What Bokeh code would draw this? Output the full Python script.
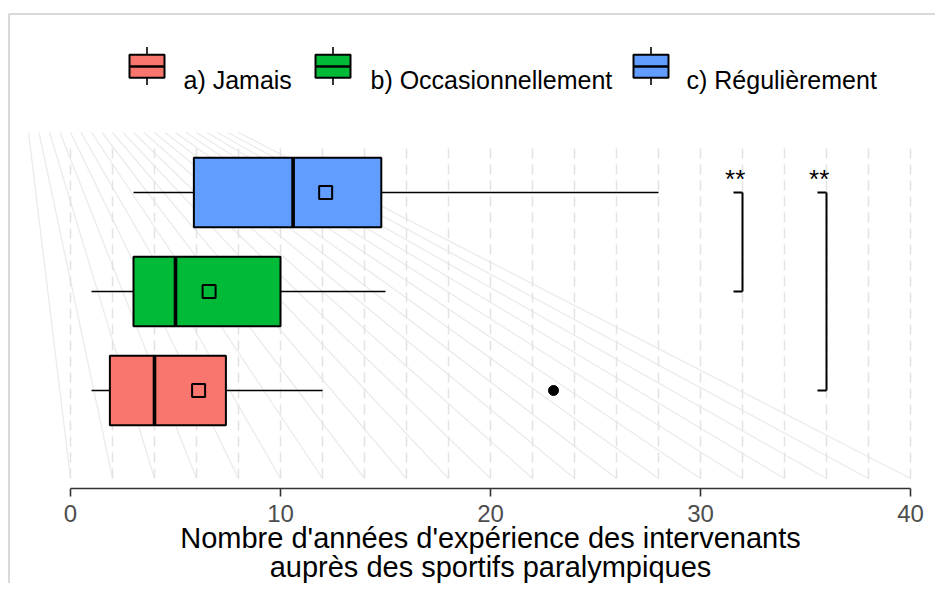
import numpy as np
from bokeh.plotting import figure
from bokeh.models import Range1d, ColumnDataSource, FixedTicker
from bokeh.core.properties import value
from bokeh.embed import file_html
from bokeh.resources import INLINE

# ---------------- data ----------------
groups = ["a) Jamais", "b) Occasionnellement", "c) Régulièrement"]
group_pos = [1, 2, 3]
colors = ["#F8766D", "#00BA38", "#619CFF"]
whisker_low = [1, 1, 3]
q1 = [1.875, 3, 5.875]
median = [4, 5, 10.6]
q3 = [7.4, 10, 14.8]
whisker_high = [12, 15, 28]
means = [6.1, 6.6, 12.15]
outlier_x = [23]
outlier_group = [1]
bracket_from = [3, 3]
bracket_to = [2, 1]
bracket_x = [32, 36]
bracket_label = ["**", "**"]
x_ticks = [0, 10, 20, 30, 40]
grid_ticks = list(range(0, 41, 2))
axis_title = "Nombre d'années d'expérience des intervenants\nauprès des sportifs paralympiques"

FONT = "Liberation Sans"

# pixel helpers (canvas coords -> data coords), layout only
def X(px):
    return (px - 70) / 21.0

def Y(py):
    return 1 + (390 - py) / 99.0

W, H = 935, 583
AXIS_Y = 488
p = figure(width=W, height=H, output_backend="svg", toolbar_location=None,
           x_range=Range1d(X(0), X(W)), y_range=Range1d(Y(H), Y(0)),
           min_border_left=0, min_border_right=0, min_border_top=0, min_border_bottom=0)
p.outline_line_color = None
p.background_fill_color = "white"
p.border_fill_color = "white"
p.yaxis.visible = False
p.xgrid.visible = False
p.ygrid.visible = False

# axis (drawn inside the canvas at a fixed location)
ax = p.xaxis[0]
ax.fixed_location = Y(AXIS_Y)
ax.ticker = FixedTicker(ticks=x_ticks)
ax.bounds = (0, 40)
ax.axis_line_color = "#333333"
ax.axis_line_width = 1.6
ax.major_tick_line_color = "#333333"
ax.major_tick_line_width = 1.6
ax.major_tick_in = 0
ax.major_tick_out = 8
ax.minor_tick_line_color = None
ax.major_label_text_font = FONT
ax.major_label_text_font_size = "24px"
ax.major_label_text_color = "#4d4d4d"
ax.major_label_standoff = 8
ax.axis_label = axis_title
ax.axis_label_text_font = FONT
ax.axis_label_text_font_size = "29px"
ax.axis_label_text_font_style = "normal"
ax.axis_label_text_color = "black"
ax.axis_label_standoff = -3
ax.axis_label_text_line_height = 0.92

# outer border (top and left)
p.segment(x0=[X(8)], x1=[X(W)], y0=[Y(13.5)], y1=[Y(13.5)],
          line_color="#d9d9d9", line_width=2)
p.segment(x0=[X(8.5)], x1=[X(8.5)], y0=[Y(13.5)], y1=[Y(H)],
          line_color="#d9d9d9", line_width=2)

# fan-shaped background lines
fan_bottom = np.array(grid_ticks, dtype=float)
fan_top = -2 + 0.5 * np.arange(len(grid_ticks))
p.segment(x0=fan_top, y0=[Y(132)] * len(fan_top), x1=fan_bottom, y1=[Y(478)] * len(fan_top),
          line_color="#ebebeb", line_width=1.3)

# dashed vertical grid
p.segment(x0=grid_ticks, x1=grid_ticks, y0=[Y(478)] * len(grid_ticks), y1=[Y(143)] * len(grid_ticks),
          line_color="#e3e3e3", line_width=1.5, line_dash="10 6")

# boxplots
half = 0.35
src = ColumnDataSource(dict(y=group_pos, wl=whisker_low, q1=q1, med=median, q3=q3,
                            wh=whisker_high, mean=means, color=colors,
                            ylo=[g - half for g in group_pos], yhi=[g + half for g in group_pos]))
p.segment(x0="wl", x1="q1", y0="y", y1="y", source=src, line_color="black", line_width=1.6)
p.segment(x0="q3", x1="wh", y0="y", y1="y", source=src, line_color="black", line_width=1.6)
p.hbar(y="y", left="q1", right="q3", height=2 * half, fill_color="color", line_color="black",
       line_width=2, source=src)
p.segment(x0="med", x1="med", y0="ylo", y1="yhi", source=src, line_color="black", line_width=3.6)
p.scatter(x="mean", y="y", source=src, marker="square", size=13, fill_color=None,
          line_color="black", line_width=2)
p.scatter(x=outlier_x, y=outlier_group, marker="circle", size=10, fill_color="black",
          line_color="black")

# significance brackets
tick_len = 0.43
for a, b, bx, lab in zip(bracket_from, bracket_to, bracket_x, bracket_label):
    p.segment(x0=[bx], x1=[bx], y0=[a], y1=[b], line_color="black", line_width=2)
    p.segment(x0=[bx - tick_len, bx - tick_len], x1=[bx, bx], y0=[a, b], y1=[a, b],
              line_color="black", line_width=2)
    p.text(x=[bx - 0.35], y=[a + 0.14], text=[lab], text_align="center", text_baseline="middle",
           text_font=value(FONT), text_font_size="26px", text_color="black")

# legend (drawn manually, horizontal, above panel)
key_left_px = [129, 315, 633]
text_left_px = [183, 370, 686]
key_w = 35
for kl, tl, g, c in zip(key_left_px, text_left_px, groups, colors):
    cx = X(kl + key_w / 2)
    p.segment(x0=[cx, cx], x1=[cx, cx], y0=[Y(46.5), Y(77.3)], y1=[Y(54.3), Y(84.5)],
              line_color="black", line_width=1.6)
    p.quad(left=[X(kl)], right=[X(kl + key_w)], top=[Y(54.3)], bottom=[Y(77.3)],
           fill_color=c, line_color="black", line_width=2)
    p.segment(x0=[X(kl)], x1=[X(kl + key_w)], y0=[Y(66)], y1=[Y(66)],
              line_color="black", line_width=2.4)
    p.text(x=[X(tl)], y=[Y(79)], text=[g], text_align="left", text_baseline="alphabetic",
           text_font=value(FONT), text_font_size="25px", text_color="black")

open("out.html", "w").write(file_html(p, INLINE))
